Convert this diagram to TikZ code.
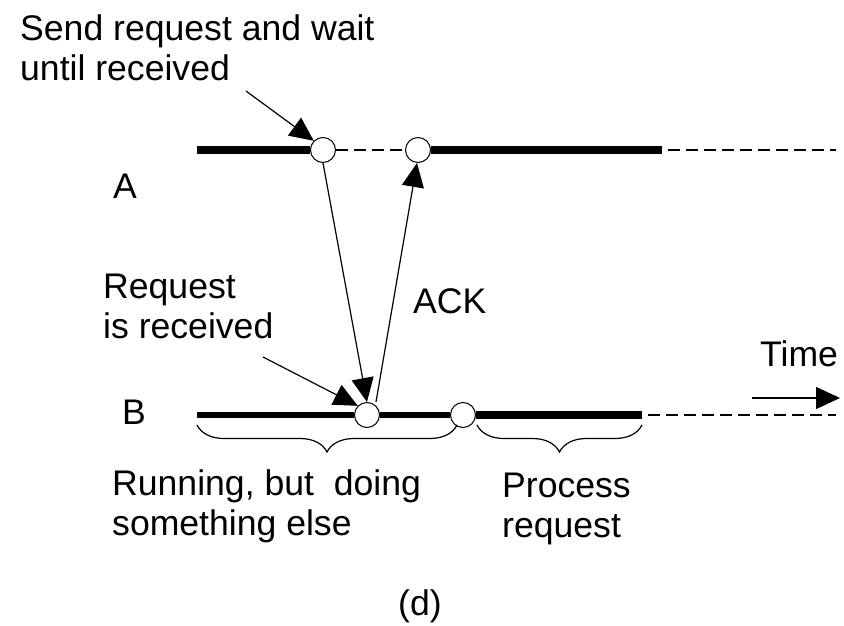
\documentclass[tikz,border=0pt]{standalone}
\usepackage{fontspec}
\setmainfont{Liberation Sans}
\usetikzlibrary{arrows.meta,decorations.pathreplacing}
\begin{document}
\begin{tikzpicture}[x=1pt,y=-1pt,
  lbl/.style={anchor=base west,inner sep=0pt,font=\fontsize{35.6}{40}\selectfont},
  evt/.style={circle,draw,fill=white,line width=1pt,minimum size=25pt,inner sep=0pt},
  thickA/.style={line width=7.5pt},
  thickB/.style={line width=6pt},
  thickC/.style={line width=8.5pt},
  idle/.style={line width=1.5pt,dash pattern=on 12pt off 6pt},
  msg/.style={line width=1.2pt,-{Triangle[length=24pt,width=22pt]}},
  brc/.style={decorate,decoration={brace,mirror,amplitude=27pt,aspect=0.5},line width=1.2pt}]
\useasboundingbox (0,0) rectangle (844,626);
% coordinates
\coordinate (As) at (197,150);
\coordinate (Ae) at (662,150);
\coordinate (Af) at (836,150);
\coordinate (Bs) at (197,415);
\coordinate (Be) at (642,415);
\coordinate (Bf) at (836,415);
% events
\node[evt] (A1) at (323,150) {};
\node[evt] (A2) at (418,150) {};
\node[evt] (B1) at (367,415) {};
\node[evt] (B2) at (463,415) {};
% timelines A
\draw[thickA] (As) -- (A1.west);
\draw[idle] (A1.east) -- (A2.west);
\draw[thickA] (A2.east) -- (Ae);
\draw[idle] ([xshift=6pt]Ae) -- (Af);
% timelines B
\draw[thickB] (Bs) -- (B1.west);
\draw[thickB] (B1.east) -- (B2.west);
\draw[thickC] (B2.east) -- (Be);
\draw[idle] ([xshift=6pt]Be) -- (Bf);
% messages
\draw[msg] (A1.south) -- (B1.north);
\draw[msg] (B1.north) ++(9pt,0) -- ([xshift=-1pt]A2.south);
% annotation arrows
\coordinate (s1) at (246,91);
\coordinate (s2) at (263,357);
\draw[msg] (s1) -- (A1.north west);
\draw[msg] (s2) -- (B1.north west);
% time arrow
\coordinate (t1) at (752,398);
\coordinate (t2) at (840,398);
\draw[msg] (t1) -- (t2);
% braces
\coordinate (b1s) at (197,425);
\coordinate (b1e) at (457,425);
\coordinate (b2s) at (477,425);
\coordinate (b2e) at (642,425);
\draw[brc] (b1s) -- (b1e);
\draw[brc] (b2s) -- (b2e);
% labels
\node[lbl] (l1) at (20,41) {Send request and wait};
\node[lbl] (l2) at (20,81) {until received};
\node[lbl] (la) at (113,198) {A};
\node[lbl] (lb) at (122,424) {B};
\node[lbl] (l3) at (103,298) {Request};
\node[lbl] (l4) at (103,338) {is received};
\node[lbl] (lack) at (413,313) {ACK};
\node[lbl] (ltime) at (760,366) {Time};
\node[lbl] (l5) at (112,495) {Running, but\ \ doing};
\node[lbl] (l6) at (112,535) {something else};
\node[lbl] (l7) at (502,497) {Process};
\node[lbl] (l8) at (502,537) {request};
\node[lbl] (ld) at (398,615) {(d)};
\end{tikzpicture}
\end{document}
